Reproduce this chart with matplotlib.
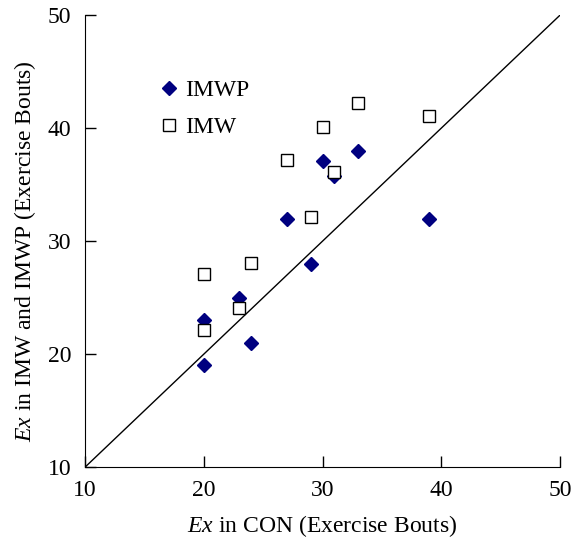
import matplotlib
matplotlib.use("Agg")
import matplotlib.pyplot as plt

plt.rcParams['font.family'] = ['Liberation Serif', 'DejaVu Serif']
plt.rcParams['mathtext.fontset'] = 'custom'
plt.rcParams['mathtext.it'] = 'Liberation Serif:italic'
plt.rcParams['mathtext.rm'] = 'Liberation Serif'

# Ex in CON (x) vs Ex in IMWP / IMW (y)
imwp_x = [20, 20, 23, 24, 27, 29, 30, 31, 33, 39]
imwp_y = [19, 23, 25, 21, 32, 28, 37.1, 35.8, 38, 32]
imw_x = [20, 20, 23, 24, 27, 29, 30, 31, 33, 39]
imw_y = [27.1, 22.1, 24.1, 28.1, 37.2, 32.1, 40.1, 36.1, 42.2, 41.1]
ticks = [10, 20, 30, 40, 50]

fig = plt.figure(figsize=(5.75, 5.4), dpi=100)
ax = fig.add_axes([0.148, 0.135, 0.826, 0.837])

# identity line
ax.plot([10, 50], [10, 50], color='black', lw=1)

ax.plot(imwp_x, imwp_y, 'D', color='#000080', markersize=7, label='IMWP', zorder=3)
ax.plot(imw_x, imw_y, 's', markerfacecolor='white', markeredgecolor='black',
        markeredgewidth=1, markersize=8.5, label='IMW', zorder=4)

ax.set_xlim(10, 50)
ax.set_ylim(10, 50)
ax.set_xticks(ticks)
ax.set_yticks(ticks)
ax.tick_params(direction='in', length=8, width=1, labelsize=17)
ax.tick_params(axis='x', pad=9)
ax.tick_params(axis='y', pad=10)
ax.spines['top'].set_visible(False)
ax.spines['right'].set_visible(False)

ax.set_xlabel(r'$Ex$ in CON (Exercise Bouts)', fontsize=17, labelpad=9)
ax.set_ylabel(r'$Ex$ in IMW and IMWP (Exercise Bouts)', fontsize=17)
ax.yaxis.set_label_coords(-0.10, 0.478)

ax.legend(loc='upper left', bbox_to_anchor=(0.107, 0.904), frameon=False,
          fontsize=17, handletextpad=0.2, labelspacing=0.65, handlelength=1.0)

fig.savefig('out.png', dpi=100)
